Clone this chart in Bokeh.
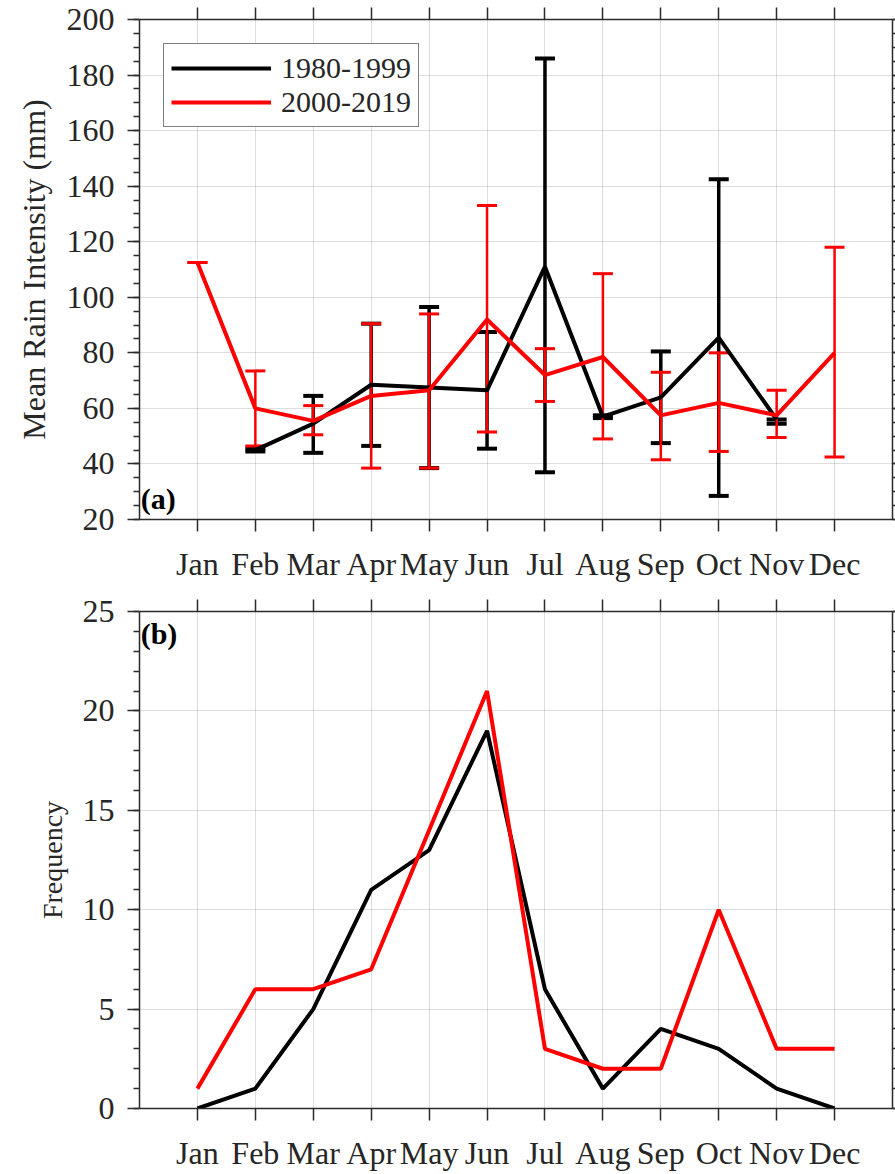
import math
from bokeh.plotting import figure
from bokeh.models import (Range1d, FixedTicker, LinearAxis, Whisker, TeeHead,
                          ColumnDataSource, Legend, LegendItem, Label,
                          CustomLabelingPolicy)
from bokeh.layouts import column
from bokeh.embed import file_html
from bokeh.resources import INLINE

NaN = float("nan")

# ---------------- data ----------------
months = list(range(1, 13))
month_labels = ["Jan", "Feb", "Mar", "Apr", "May", "Jun",
                "Jul", "Aug", "Sep", "Oct", "Nov", "Dec"]

# (a) mean rain intensity (mm) with error bars
black_mean = [NaN, 45, 54.5, 68.5, 67.5, 66.5, 111, 57, 64, 85.5, 56, NaN]
black_lo = [NaN, 44.5, 44, 46.5, 38.5, 45.5, 37, 56.5, 47.5, 28.5, 54.5, NaN]
black_hi = [NaN, 45.5, 64.5, 90.5, 96.5, 87.5, 186, 57.5, 80.5, 142.5, 56, NaN]

red_mean = [112.5, 60, 55.5, 64.5, 66.5, 92, 72, 78.5, 57.5, 62, 57.5, 80]
red_lo = [112.5, 46.5, 50.5, 38.5, 38.5, 51.5, 62.5, 49, 41.5, 44.5, 49.5, 42.5]
red_hi = [112.5, 73.5, 61, 90.5, 94, 133, 81.5, 108.5, 73, 80, 66.5, 118]

# (b) frequency
black_freq = [0, 1, 5, 11, 13, 19, 6, 1, 4, 3, 1, 0]
red_freq = [1, 6, 6, 7, 14, 21, 3, 2, 2, 10, 3, 3]

series_names = ["1980-1999", "2000-2019"]

# ---------------- style ----------------
FONT = "Liberation Serif"
AX = "#2b2b2b"
TXT = "#262626"
TICK_FS = "32px"
RED = "#ff0000"
BLACK = "#000000"


def style_axis(ax, show_labels=True):
    ax.axis_line_color = AX
    ax.axis_line_width = 1.5
    ax.major_tick_line_color = AX
    ax.minor_tick_line_color = AX
    ax.major_tick_line_width = 1.5
    ax.minor_tick_line_width = 1.5
    ax.major_tick_in = 0
    ax.minor_tick_in = 0
    ax.major_tick_out = 12
    ax.minor_tick_out = 6
    ax.major_label_text_font = FONT
    ax.major_label_text_color = TXT
    ax.axis_label_text_font = FONT
    ax.axis_label_text_font_style = "normal"
    ax.axis_label_text_color = TXT
    if show_labels:
        ax.major_label_text_font_size = TICK_FS
    else:
        ax.major_label_text_font_size = "0px"
        ax.major_label_standoff = 0
        ax.major_label_policy = CustomLabelingPolicy(code="return new Set()")


def make_fig(height, y0, y1, yticks, yminor, ylabel, ylabel_fs, border_top):
    p = figure(width=895, height=height, x_range=Range1d(0, 13),
               y_range=Range1d(y0, y1), output_backend="svg",
               toolbar_location=None, min_border_left=139,
               min_border_right=3, min_border_top=border_top,
               min_border_bottom=64, background_fill_color="white",
               border_fill_color="white", outline_line_color=None)
    xt = FixedTicker(ticks=months, minor_ticks=[])
    yt = FixedTicker(ticks=yticks, minor_ticks=yminor)
    p.xaxis.ticker = xt
    p.yaxis.ticker = yt
    p.xaxis.major_label_overrides = {m: l for m, l in zip(months, month_labels)}
    style_axis(p.xaxis[0])
    style_axis(p.yaxis[0])
    p.xaxis.major_label_standoff = 14
    p.yaxis.major_label_standoff = 13
    p.yaxis.axis_label = ylabel
    p.yaxis.axis_label_text_font_size = ylabel_fs
    p.yaxis.axis_label_standoff = 12
    top = LinearAxis(ticker=FixedTicker(ticks=months, minor_ticks=[]))
    style_axis(top, show_labels=False)
    p.add_layout(top, "above")
    right = LinearAxis(ticker=FixedTicker(ticks=yticks, minor_ticks=yminor))
    style_axis(right, show_labels=False)
    right.major_tick_out = 3
    right.minor_tick_out = 3
    p.add_layout(right, "right")
    p.xgrid.ticker = xt
    p.ygrid.ticker = yt
    for g in (p.xgrid[0], p.ygrid[0]):
        g.grid_line_color = "#000000"
        g.grid_line_alpha = 0.13
        g.grid_line_width = 1
    return p


# ---------------- panel (a) ----------------
ticks_a = list(range(20, 201, 20))
minor_a = list(range(20, 201, 5))
p1 = make_fig(584, 20, 200, ticks_a, minor_a, "Mean Rain Intensity (mm)",
              "32px", 19)


def whisker_source(lo, hi):
    xs, l, h = [], [], []
    for m, b, c in zip(months, lo, hi):
        if not (math.isnan(b) or math.isnan(c)):
            xs.append(m)
            l.append(b)
            h.append(c)
    return ColumnDataSource(dict(x=xs, lo=l, hi=h))


def add_whisker(p, src, color, lw, cap_lw):
    w = Whisker(source=src, base="x", lower="lo", upper="hi",
                line_color=color, line_width=lw,
                upper_head=TeeHead(size=20, line_color=color, line_width=cap_lw),
                lower_head=TeeHead(size=20, line_color=color, line_width=cap_lw))
    p.add_layout(w)


add_whisker(p1, whisker_source(black_lo, black_hi), BLACK, 3.5, 4)
lb = p1.line(months, black_mean, line_color=BLACK, line_width=4)
add_whisker(p1, whisker_source(red_lo, red_hi), RED, 2.5, 3)
lr = p1.line(months, red_mean, line_color=RED, line_width=4)

legend = Legend(items=[LegendItem(label=series_names[0], renderers=[lb]),
                       LegendItem(label=series_names[1], renderers=[lr])],
                location="top_left", margin=24, padding=7, spacing=0,
                glyph_width=100, glyph_height=30, label_height=30,
                label_standoff=10, label_text_font=FONT,
                label_text_font_size="30px", label_text_color=TXT,
                border_line_color="#000000", border_line_width=1.5,
                background_fill_alpha=1.0)
p1.add_layout(legend)

p1.add_layout(Label(x=0.02, y=21.8, text="(a)", text_font=FONT,
                    text_font_size="30px", text_font_style="bold",
                    text_color="#000000", text_baseline="bottom"))

# ---------------- panel (b) ----------------
ticks_b = list(range(0, 26, 5))
minor_b = list(range(0, 26, 1))
p2 = make_fig(589, 0, 25, ticks_b, minor_b, "Frequency", "28px", 27)
p2.line(months, black_freq, line_color=BLACK, line_width=4)
p2.line(months, red_freq, line_color=RED, line_width=4)
p2.add_layout(Label(x=0.02, y=24.7, text="(b)", text_font=FONT,
                    text_font_size="30px", text_font_style="bold",
                    text_color="#000000", text_baseline="top"))

layout = column(p1, p2, spacing=0)
open("out.html", "w").write(file_html(layout, INLINE))
